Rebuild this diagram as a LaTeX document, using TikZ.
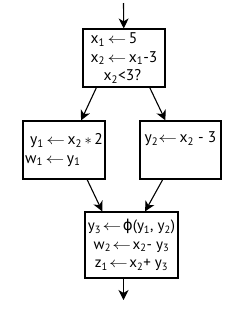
\documentclass[tikz,border=0pt]{standalone}
\usepackage{fontspec}
\usepackage{graphicx}
\setmainfont{PT Sans}
\newfontfamily\symfont{DejaVu Sans}
\usetikzlibrary{arrows.meta, positioning}
\newcommand{\ix}[1]{\textsubscript{#1}}
\newcommand{\getsarrow}{\scalebox{1.3}[1]{$\leftarrow$}}
\newcommand{\phisym}{{\symfont ϕ}}

\begin{document}
\begin{tikzpicture}[
    x=1pt, y=-1pt,
    >={Stealth[length=10pt, width=10pt, inset=3pt]},
    block/.style={
        draw=black,
        line width=1.2pt,
        fill=white,
        inner sep=0pt,
        minimum width=82pt,
        minimum height=58pt,
        font=\fontsize{15.5}{18.5}\selectfont
    },
    every edge/.style={
        draw=black,
        line width=1.1pt,
        ->
    }
]
\useasboundingbox (0,0) rectangle (245,309);

% Blocks
\node[block, align=left] (B1) at (124, 58)
    {x\ix{1}\,\getsarrow\,5\\x\ix{2}\,\getsarrow\,x\ix{1}-3\\\hspace*{13pt}x\ix{2}<3?};
\node[block, align=left] (B2) at (64, 150)
    {\hspace*{5pt}y\ix{1}\,\getsarrow\,x\ix{2}\,$*$\,2\\w\ix{1}\,\getsarrow\,y\ix{1}};
\node[block, align=left, minimum width=81pt, text depth=26pt] (B3) at (180.5, 150)
    {y\ix{2}\getsarrow\,x\ix{2} - 3};
\node[block, align=center, minimum width=93pt, minimum height=66pt, font=\fontsize{15}{18.5}\selectfont] (B4) at (131.5, 245)
    {y\ix{3}\kern1.5pt\getsarrow\kern1.5pt\phisym(y\ix{1}, y\ix{2})\\w\ix{2}\kern1.5pt\getsarrow\kern1.5pt x\ix{2}- y\ix{3}\\z\ix{1}\kern1.5pt\getsarrow\kern1.5pt x\ix{2}+ y\ix{3}};

\coordinate (entry) at (123.5, 3);
\coordinate (exit) at (123.5, 300);

% Edges
\path (entry) edge (B1);
\path (B1.227) edge (B2.60);
\path (B1.311) edge (B3.117);
\path (B2.308) edge (B4.131);
\path (B3.239) edge (B4.68);
\path (exit |- B4.south) edge (exit);

\end{tikzpicture}
\end{document}
